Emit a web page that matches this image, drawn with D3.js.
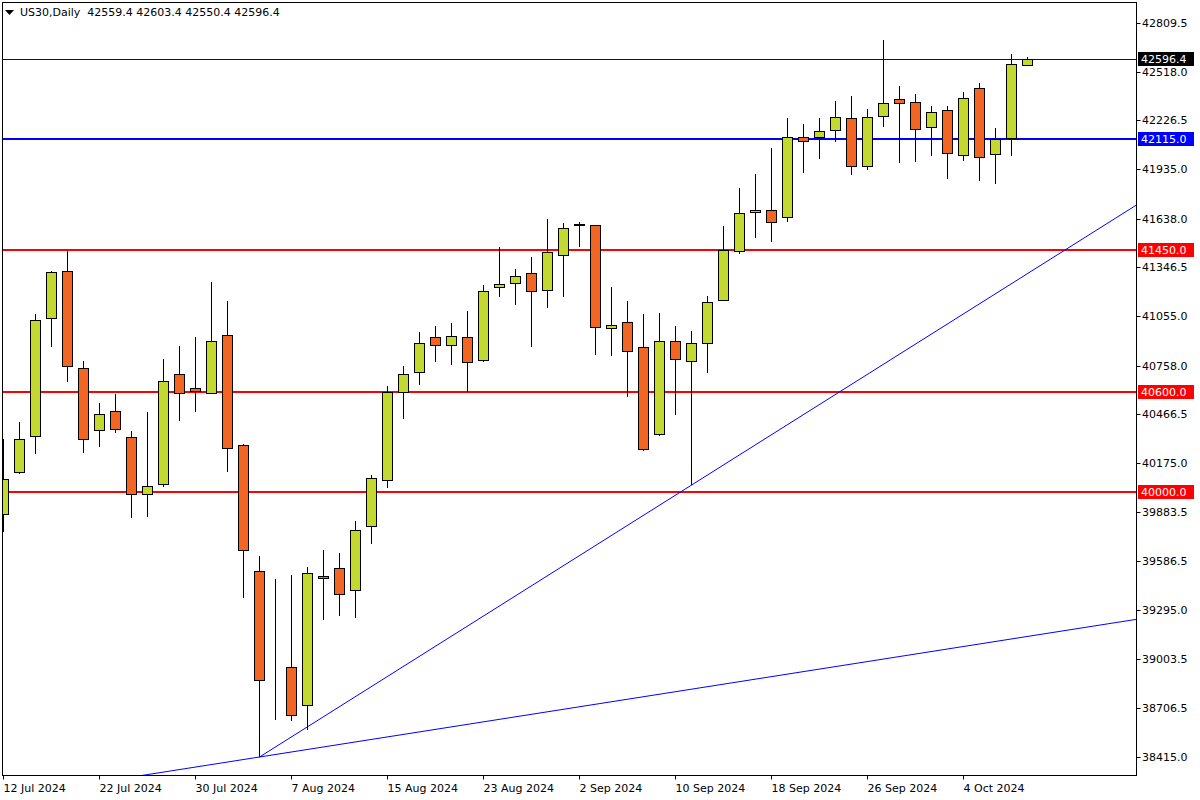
<!DOCTYPE html>
<html>
<head>
<meta charset="utf-8">
<script src="https://cdn.jsdelivr.net/npm/d3@7/dist/d3.min.js"></script>
<style>
  html, body { margin: 0; padding: 0; background: #fff; }
  svg { display: block; }
  text { font-family: "DejaVu Sans", Verdana, sans-serif; font-size: 11px; }
</style>
</head>
<body>
<svg id="chart" width="1200" height="800"></svg>
<script>
// ---------------- DATA ----------------
const symbolTitle = "US30,Daily";
const lastBarOHLC = [42559.4, 42603.4, 42550.4, 42596.4];

const dates = [
  "2024-07-12","2024-07-15","2024-07-16","2024-07-17","2024-07-18","2024-07-19",
  "2024-07-22","2024-07-23","2024-07-24","2024-07-25","2024-07-26",
  "2024-07-29","2024-07-30","2024-07-31","2024-08-01","2024-08-02",
  "2024-08-05","2024-08-06","2024-08-07","2024-08-08","2024-08-09",
  "2024-08-12","2024-08-13","2024-08-14","2024-08-15","2024-08-16",
  "2024-08-19","2024-08-20","2024-08-21","2024-08-22","2024-08-23",
  "2024-08-26","2024-08-27","2024-08-28","2024-08-29","2024-08-30",
  "2024-09-02","2024-09-03","2024-09-04","2024-09-05","2024-09-06",
  "2024-09-09","2024-09-10","2024-09-11","2024-09-12","2024-09-13",
  "2024-09-16","2024-09-17","2024-09-18","2024-09-19","2024-09-20",
  "2024-09-23","2024-09-24","2024-09-25","2024-09-26","2024-09-27",
  "2024-09-30","2024-10-01","2024-10-02","2024-10-03","2024-10-04",
  "2024-10-07","2024-10-08","2024-10-09","2024-10-10"
];

const open = [
  39870,40121,40337,41043,41325,40744,40373,40486,40331,39990,
  40049,40708,40624,40594,40942,40283,39528,38918,38954,38726,
  39499,39546,39415,39798,40073,40600,40720,40930,40882,40930,
  40792,41229,41253,41313,41211,41420,41600,41600,40983,41019,
  40870,40349,40906,40786,40894,41151,41445,41678,41690,41648,
  42127,42127,42169,42241,41953,42253,42354,42336,42187,42288,
  42019,42420,42025,42121,42559.4
];
const high = [
  40319,40421,41067,41322,41445,40786,40534,40588,40367,40481,
  40798,40876,40930,41259,41145,40290,39618,39481,39505,39552,
  39654,39636,39828,40103,40636,40756,40959,40995,41013,41085,
  41241,41468,41337,41408,41636,41612,41618,41602,41229,41145,
  41067,41073,40995,40965,41175,41594,41821,41905,42061,42241,
  42205,42241,42342,42372,42294,42708,42432,42384,42312,42312,
  42396,42450,42181,42624,42603.4
];
const low = [
  39762,40109,40229,40870,40660,40235,40271,40355,39846,39852,
  40031,40427,40481,40588,40121,39367,38415,38636,38630,38577,
  39235,39259,39247,39690,40025,40438,40642,40780,40762,40600,
  40780,41169,41121,40870,41103,41169,41468,40822,40816,40570,
  40247,40337,40462,40043,40714,41148,41426,41522,41498,41618,
  41911,41995,42097,41899,41929,42187,41971,41977,42013,41875,
  41983,41863,41845,42013,42550.4
];
const close = [
  40079,40319,41031,41319,40756,40319,40469,40379,39990,40037,
  40666,40594,40606,40906,40265,39654,38876,38918,38666,39516,
  39487,39391,39774,40085,40600,40708,40894,40882,40935,40780,
  41205,41247,41295,41205,41438,41582,41604,40989,41001,40846,
  40259,40906,40798,40894,41139,41450,41672,41690,41618,42127,
  42103,42163,42247,41953,42247,42330,42330,42175,42277,42031,
  42360,42007,42115,42564,42596.4
];

// price axis tick labels
const priceTicks = [42809.5, 42518.0, 42226.5, 41935.0, 41638.0, 41346.5, 41055.0,
  40758.0, 40466.5, 40175.0, 39883.5, 39586.5, 39295.0, 39003.5, 38706.5, 38415.0];

// time axis tick labels (bar index -> label)
const timeTickIndex = [0, 6, 12, 18, 24, 30, 36, 42, 48, 54, 60];
const timeTickLabels = ["12 Jul 2024","22 Jul 2024","30 Jul 2024","7 Aug 2024","15 Aug 2024",
  "23 Aug 2024","2 Sep 2024","10 Sep 2024","18 Sep 2024","26 Sep 2024","4 Oct 2024"];

// horizontal levels
const levelPrices = [42596.4, 42115.0, 41450.0, 40600.0, 40000.0];
const levelKinds  = ["last", "blue", "red", "red", "red"];

// trend lines: anchor points [barIndex, price]
const trendA = [[16, 38415], [43, 40043]];   // ray to the right
const trendB = [[16, 38415], [70, 39227]];   // extended both ways

// ---------------- LAYOUT ----------------
const plot = { left: 2.5, top: 2.5, right: 1136.5, bottom: 775.5 };
const bullColor = "#c3d92f", bearColor = "#f26522";
const levelStyle = {
  last: { stroke: "#0000cc", width: 1, bg: "#000000" },
  blue: { stroke: "#0000ff", width: 2, bg: "#0000ff" },
  red:  { stroke: "#ff0000", width: 2, bg: "#ff0000" }
};

const svg = d3.select("#chart");

const x = d3.scaleLinear().domain([0, 1]).range([3.5, 19.5]);
const y = d3.scaleLinear().domain([38415, 42809.5]).range([757, 23]);

const bars = dates.map((d, i) => ({ i, d, o: open[i], h: high[i], l: low[i], c: close[i] }));

svg.append("defs").append("clipPath").attr("id", "plotClip")
  .append("rect")
  .attr("x", plot.left).attr("y", plot.top)
  .attr("width", plot.right - plot.left).attr("height", plot.bottom - plot.top);

const g = svg.append("g").attr("clip-path", "url(#plotClip)");

// horizontal levels
levelPrices.forEach((p, k) => {
  const st = levelStyle[levelKinds[k]];
  const yy = st.width === 1 ? Math.round(y(p)) + 0.5 : Math.round(y(p));
  g.append("line")
    .attr("x1", plot.left).attr("x2", plot.right)
    .attr("y1", yy).attr("y2", yy)
    .attr("stroke", st.stroke).attr("stroke-width", st.width);
});

// trend lines
function lineThrough(pts, fromX, toX) {
  const [a, b] = pts;
  const x1 = x(a[0]), y1 = y(a[1]), x2 = x(b[0]), y2 = y(b[1]);
  const s = (y2 - y1) / (x2 - x1);
  return [fromX, y1 + s * (fromX - x1), toX, y1 + s * (toX - x1)];
}
const tA = lineThrough(trendA, x(trendA[0][0]), plot.right);
const tB = lineThrough(trendB, plot.left - 200, plot.right);
[tA, tB].forEach(t => {
  g.append("line")
    .attr("x1", t[0]).attr("y1", t[1]).attr("x2", t[2]).attr("y2", t[3])
    .attr("stroke", "#0000ff").attr("stroke-width", 1);
});

// candles
const cg = g.append("g");
cg.selectAll("line.wick").data(bars).join("line")
  .attr("class", "wick")
  .attr("x1", d => x(d.i)).attr("x2", d => x(d.i))
  .attr("y1", d => Math.round(y(d.h))).attr("y2", d => Math.round(y(d.l)))
  .attr("stroke", "#000").attr("stroke-width", 1);

cg.selectAll("rect.body").data(bars).join("rect")
  .attr("class", "body")
  .attr("x", d => x(d.i) - 5)
  .attr("width", 10)
  .attr("y", d => Math.round(y(Math.max(d.o, d.c))) + 0.5)
  .attr("height", d => Math.max(0, Math.round(y(Math.min(d.o, d.c))) - Math.round(y(Math.max(d.o, d.c)))))
  .attr("fill", d => d.c >= d.o ? bullColor : bearColor)
  .attr("stroke", "#000").attr("stroke-width", 1);

// frame
svg.append("rect")
  .attr("x", plot.left).attr("y", plot.top)
  .attr("width", plot.right - plot.left).attr("height", plot.bottom - plot.top)
  .attr("fill", "none").attr("stroke", "#000").attr("stroke-width", 1);

// price axis
const pa = svg.append("g");
priceTicks.forEach(p => {
  const yy = Math.round(y(p)) + 0.5;
  pa.append("line").attr("x1", plot.right).attr("x2", plot.right + 4)
    .attr("y1", yy).attr("y2", yy).attr("stroke", "#000");
  pa.append("text").attr("x", 1142).attr("y", yy).attr("dy", "0.36em")
    .attr("fill", "#000").text(d3.format(".1f")(p));
});

// level labels on axis
levelPrices.forEach((p, k) => {
  const st = levelStyle[levelKinds[k]];
  const yy = Math.round(y(p));
  pa.append("rect").attr("x", 1138).attr("y", yy - 7)
    .attr("width", 56).attr("height", 14).attr("fill", st.bg);
  pa.append("text").attr("x", 1141).attr("y", yy).attr("dy", "0.36em")
    .attr("fill", "#fff").text(d3.format(".1f")(p));
});

// time axis
const ta = svg.append("g");
timeTickIndex.forEach((idx, k) => {
  const xx = x(idx);
  ta.append("line").attr("x1", xx).attr("x2", xx)
    .attr("y1", plot.bottom).attr("y2", plot.bottom + 4).attr("stroke", "#000");
  ta.append("text").attr("x", xx).attr("y", 792).attr("fill", "#000")
    .text(timeTickLabels[k]);
});

// header
svg.append("path").attr("d", "M5,10 L14,10 L9.5,15 Z").attr("fill", "#000");
svg.append("text").attr("x", 20).attr("y", 16).attr("fill", "#000")
  .style("white-space", "pre").attr("xml:space", "preserve")
  .text(symbolTitle + "  " + lastBarOHLC.map(v => v.toFixed(1)).join(" "));
</script>
</body>
</html>
